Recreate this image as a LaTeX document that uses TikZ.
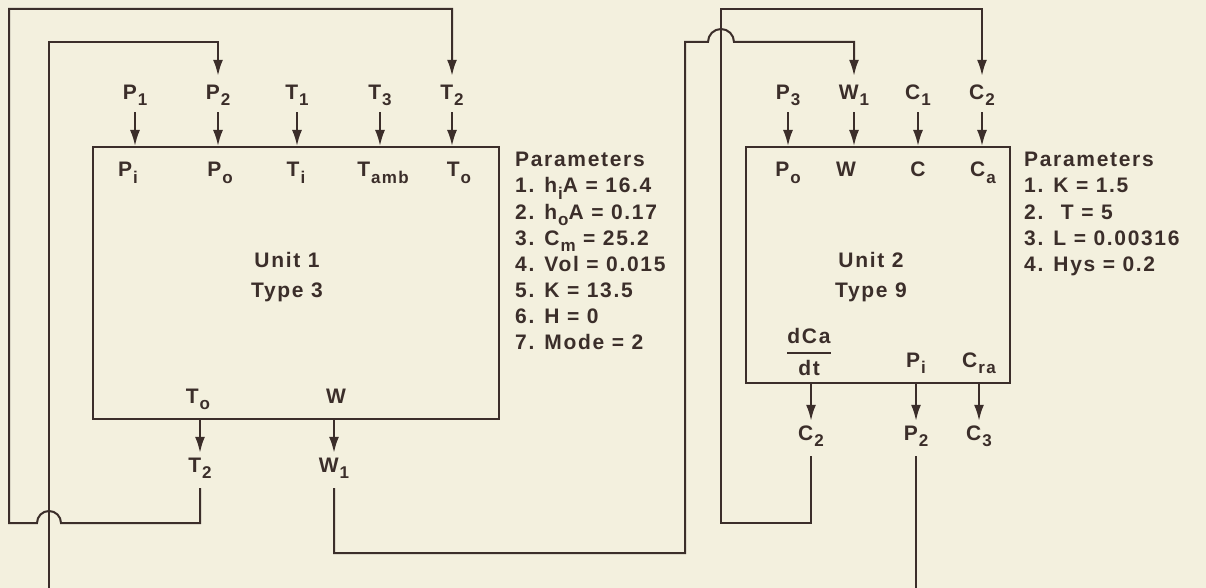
\documentclass[tikz,border=0pt]{standalone}
\usepackage{fontspec}
\usepackage{amsmath}
\setmainfont[LetterSpace=8]{Liberation Sans}
\usetikzlibrary{arrows.meta}
\definecolor{paper}{HTML}{F3F0DE}
\definecolor{ink}{HTML}{3B2E2A}
\newcommand{\sbs}[2]{#1\kern1pt\raisebox{-6pt}{\fontsize{17}{17}\selectfont#2}}

\begin{document}
\begin{tikzpicture}[x=1pt,y=-1pt,
  wire/.style={draw=ink,line width=2pt},
  sig/.style={wire,-{Latex[length=16pt,width=10pt]}},
  lbl/.style={text=ink,font=\fontsize{21}{24}\selectfont\bfseries,inner sep=0pt},
  port/.style={lbl,anchor=base,inner ysep=4pt,text height=15pt,text depth=7pt},
  unitbox/.style={wire,inner sep=0pt}]
\fill[paper] (0,0) rectangle (1206,588);
\useasboundingbox (0,0) rectangle (1206,588);

% unit boxes
\node[unitbox,minimum width=406pt,minimum height=272pt] (u1) at (296,283) {};
\node[unitbox,minimum width=264pt,minimum height=236pt] (u2) at (878,265) {};

% unit 1 inputs and ports
\foreach \x/\nm/\txt in {135/p1/\sbs{P}{1},218/p2/\sbs{P}{2},297/t1/\sbs{T}{1},380/t3/\sbs{T}{3},452/t2/\sbs{T}{2}}{
  \node[port] (\nm) at (\x,100) {\txt};
  \draw[sig] ([yshift=-1pt]\nm.south) -- (\nm.south |- u1.north);}
\foreach \x/\nm/\txt in {128/pi1/\sbs{P}{i},220/po1/\sbs{P}{o},296/ti1/\sbs{T}{i},383/tamb1/\sbs{T}{amb},459/to1/\sbs{T}{o}}
  \node[port] (\nm) at (\x,177) {\txt};
\node[port] (tob) at (198,403) {\sbs{T}{o}};
\node[port] (wb) at (336,403) {W};
\node[port] (u1a) at (287,267) {Unit 1};
\node[port] (u1b) at (287,297) {Type 3};

% unit 1 outputs
\node[port] (t2out) at (200,472) {\sbs{T}{2}};
\node[port] (w1out) at (334,472) {\sbs{W}{1}};
\foreach \nm in {t2out,w1out}
  \draw[sig] (\nm.north |- u1.south) -- (\nm.north);

% unit 1 parameters
\node[port,anchor=base west] (pa0) at (515,167) {Parameters};
\foreach \i/\txt in {1/{1. \sbs{h}{i}A = 16.4},2/{2. \sbs{h}{o}A = 0.17},3/{3. \sbs{C}{m} = 25.2},4/{4. Vol = 0.015},5/{5. K = 13.5},6/{6. H = 0},7/{7. Mode = 2}}
  \node[port,anchor=base west] (pa\i) at (515,{167+26*\i}) {\txt};

% unit 2 inputs and ports
\foreach \x/\nm/\txt in {788/p3/\sbs{P}{3},854/w1in/\sbs{W}{1},918/c1/\sbs{C}{1},982/c2in/\sbs{C}{2}}{
  \node[port] (\nm) at (\x,100) {\txt};
  \draw[sig] ([yshift=-1pt]\nm.south) -- (\nm.south |- u2.north);}
\foreach \x/\nm/\txt in {788/po2/\sbs{P}{o},846/w2/W,918/c2x/C,983/ca2/\sbs{C}{a}}
  \node[port] (\nm) at (\x,177) {\txt};
\node[lbl] (dcadt) at (809,352) {$\displaystyle{\text{dCa}\above2pt\text{dt}}$};
\node[port] (pi2) at (916,367) {\sbs{P}{i}};
\node[port] (cra2) at (979,367) {\sbs{C}{ra}};
\node[port] (u2a) at (871,267) {Unit 2};
\node[port] (u2b) at (871,297) {Type 9};

% unit 2 outputs
\node[port] (c2out) at (811,440) {\sbs{C}{2}};
\node[port] (p2out) at (916,440) {\sbs{P}{2}};
\node[port] (c3) at (979,440) {\sbs{C}{3}};
\foreach \nm in {c2out,p2out,c3}
  \draw[sig] (\nm.north |- u2.south) -- (\nm.north);

% unit 2 parameters
\node[port,anchor=base west] (pb0) at (1024,167) {Parameters};
\foreach \i/\txt in {1/{1. K = 1.5},2/{2.~ T = 5},3/{3. L = 0.00316},4/{4. Hys = 0.2}}
  \node[port,anchor=base west] (pb\i) at (1024,{167+26*\i}) {\txt};

% feedback lines
\coordinate (p2foot) at (49,588);
\draw[sig] ([yshift=-5pt]t2out.south) -- (t2out.south |- 0,523) -- (61,523)
  arc[start angle=0,end angle=180,radius=12pt] -- (9,523) -- (9,9)
  -- (t2.north |- 0,9) -- ([yshift=5pt]t2.north);
\draw[sig] (p2foot) -- (49,42) -- (p2.north |- 0,42) -- ([yshift=5pt]p2.north);
\draw[wire] ([yshift=-5pt]p2out.south) -- (p2out.south |- p2foot);
\draw[sig] ([yshift=-5pt]w1out.south) -- (w1out.south |- 0,553) -- (685,553) -- (685,42)
  -- (708,42) arc[start angle=180,end angle=0,radius=13pt]
  -- (w1in.north |- 0,42) -- ([yshift=5pt]w1in.north);
\draw[sig] ([yshift=-5pt]c2out.south) -- (c2out.south |- 0,523) -- (721,523) -- (721,9)
  -- (c2in.north |- 0,9) -- ([yshift=5pt]c2in.north);
\end{tikzpicture}
\end{document}
